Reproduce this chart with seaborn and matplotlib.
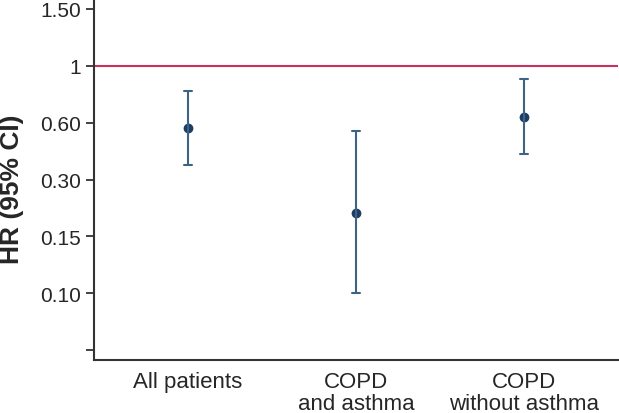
import numpy as np
import pandas as pd
import matplotlib
matplotlib.use("Agg")
import matplotlib.pyplot as plt
import seaborn as sns

# data (HR and 95% CI)
groups = ["All patients", "COPD\nand asthma", "COPD\nwithout asthma"]
hr = [0.56, 0.20, 0.63]
ci_low = [0.36, 0.10, 0.41]
ci_high = [0.80, 0.54, 0.89]

# y ticks are evenly spaced in the original, not a true log axis
tick_vals = [0.05, 0.10, 0.15, 0.30, 0.60, 1.0, 1.50]
tick_labels = ["", "0.10", "0.15", "0.30", "0.60", "1", "1.50"]

ext_vals = [0.02] + tick_vals + [2.5]
ext_pos = np.arange(-1, len(tick_vals) + 1)
log_ext = np.log(ext_vals)


def fwd(v):
    with np.errstate(divide="ignore", invalid="ignore"):
        lv = np.log(np.clip(v, 1e-6, None))
    return np.interp(lv, log_ext, ext_pos)


def inv(p):
    return np.exp(np.interp(p, ext_pos, log_ext))


rows = []
for g, lo, est, hi in zip(groups, ci_low, hr, ci_high):
    for v in (lo, est, hi):
        rows.append({"group": g, "hr": v})
df = pd.DataFrame(rows)

sns.set_style("ticks")
plt.rcParams["font.family"] = ["Liberation Sans", "DejaVu Sans"]

fig = plt.figure(figsize=(6.19, 4.14), dpi=100)
ax = fig.add_axes([94 / 619, (414 - 361) / 414, 524 / 619, 361 / 414])
ax.set_yscale("function", functions=(fwd, inv))

sns.pointplot(data=df, x="group", y="hr", order=groups,
              estimator="median", errorbar=lambda v: (v.min(), v.max()),
              linestyle="none", markers="o", markersize=5,
              color="#1d3d62", capsize=0.05,
              err_kws={"color": "#3d6389", "linewidth": 1.5}, ax=ax)

ax.axhline(1.0, color="#c8325e", linewidth=1.5, zorder=0)

ax.set_xlim(-0.56, 2.56)
ax.set_ylim(inv(-0.175), inv(6.175))
ax.set_yticks(tick_vals)
ax.set_yticklabels(tick_labels)
ax.yaxis.set_minor_locator(matplotlib.ticker.NullLocator())

ax.set_xlabel("")
ax.set_ylabel("HR (95% CI)", fontsize=19, fontweight="bold")
ax.yaxis.set_label_coords(-0.134, 0.475)
ax.tick_params(axis="y", labelsize=15, length=6, width=1.3, color="#333333")
ax.tick_params(axis="x", labelsize=16, length=0, pad=8)
for t in ax.get_xticklabels():
    t.set_linespacing(1.05)

sns.despine(ax=ax)
for s in ("left", "bottom"):
    ax.spines[s].set_color("#333333")
    ax.spines[s].set_linewidth(1.5)

fig.savefig("out.png", dpi=100)
